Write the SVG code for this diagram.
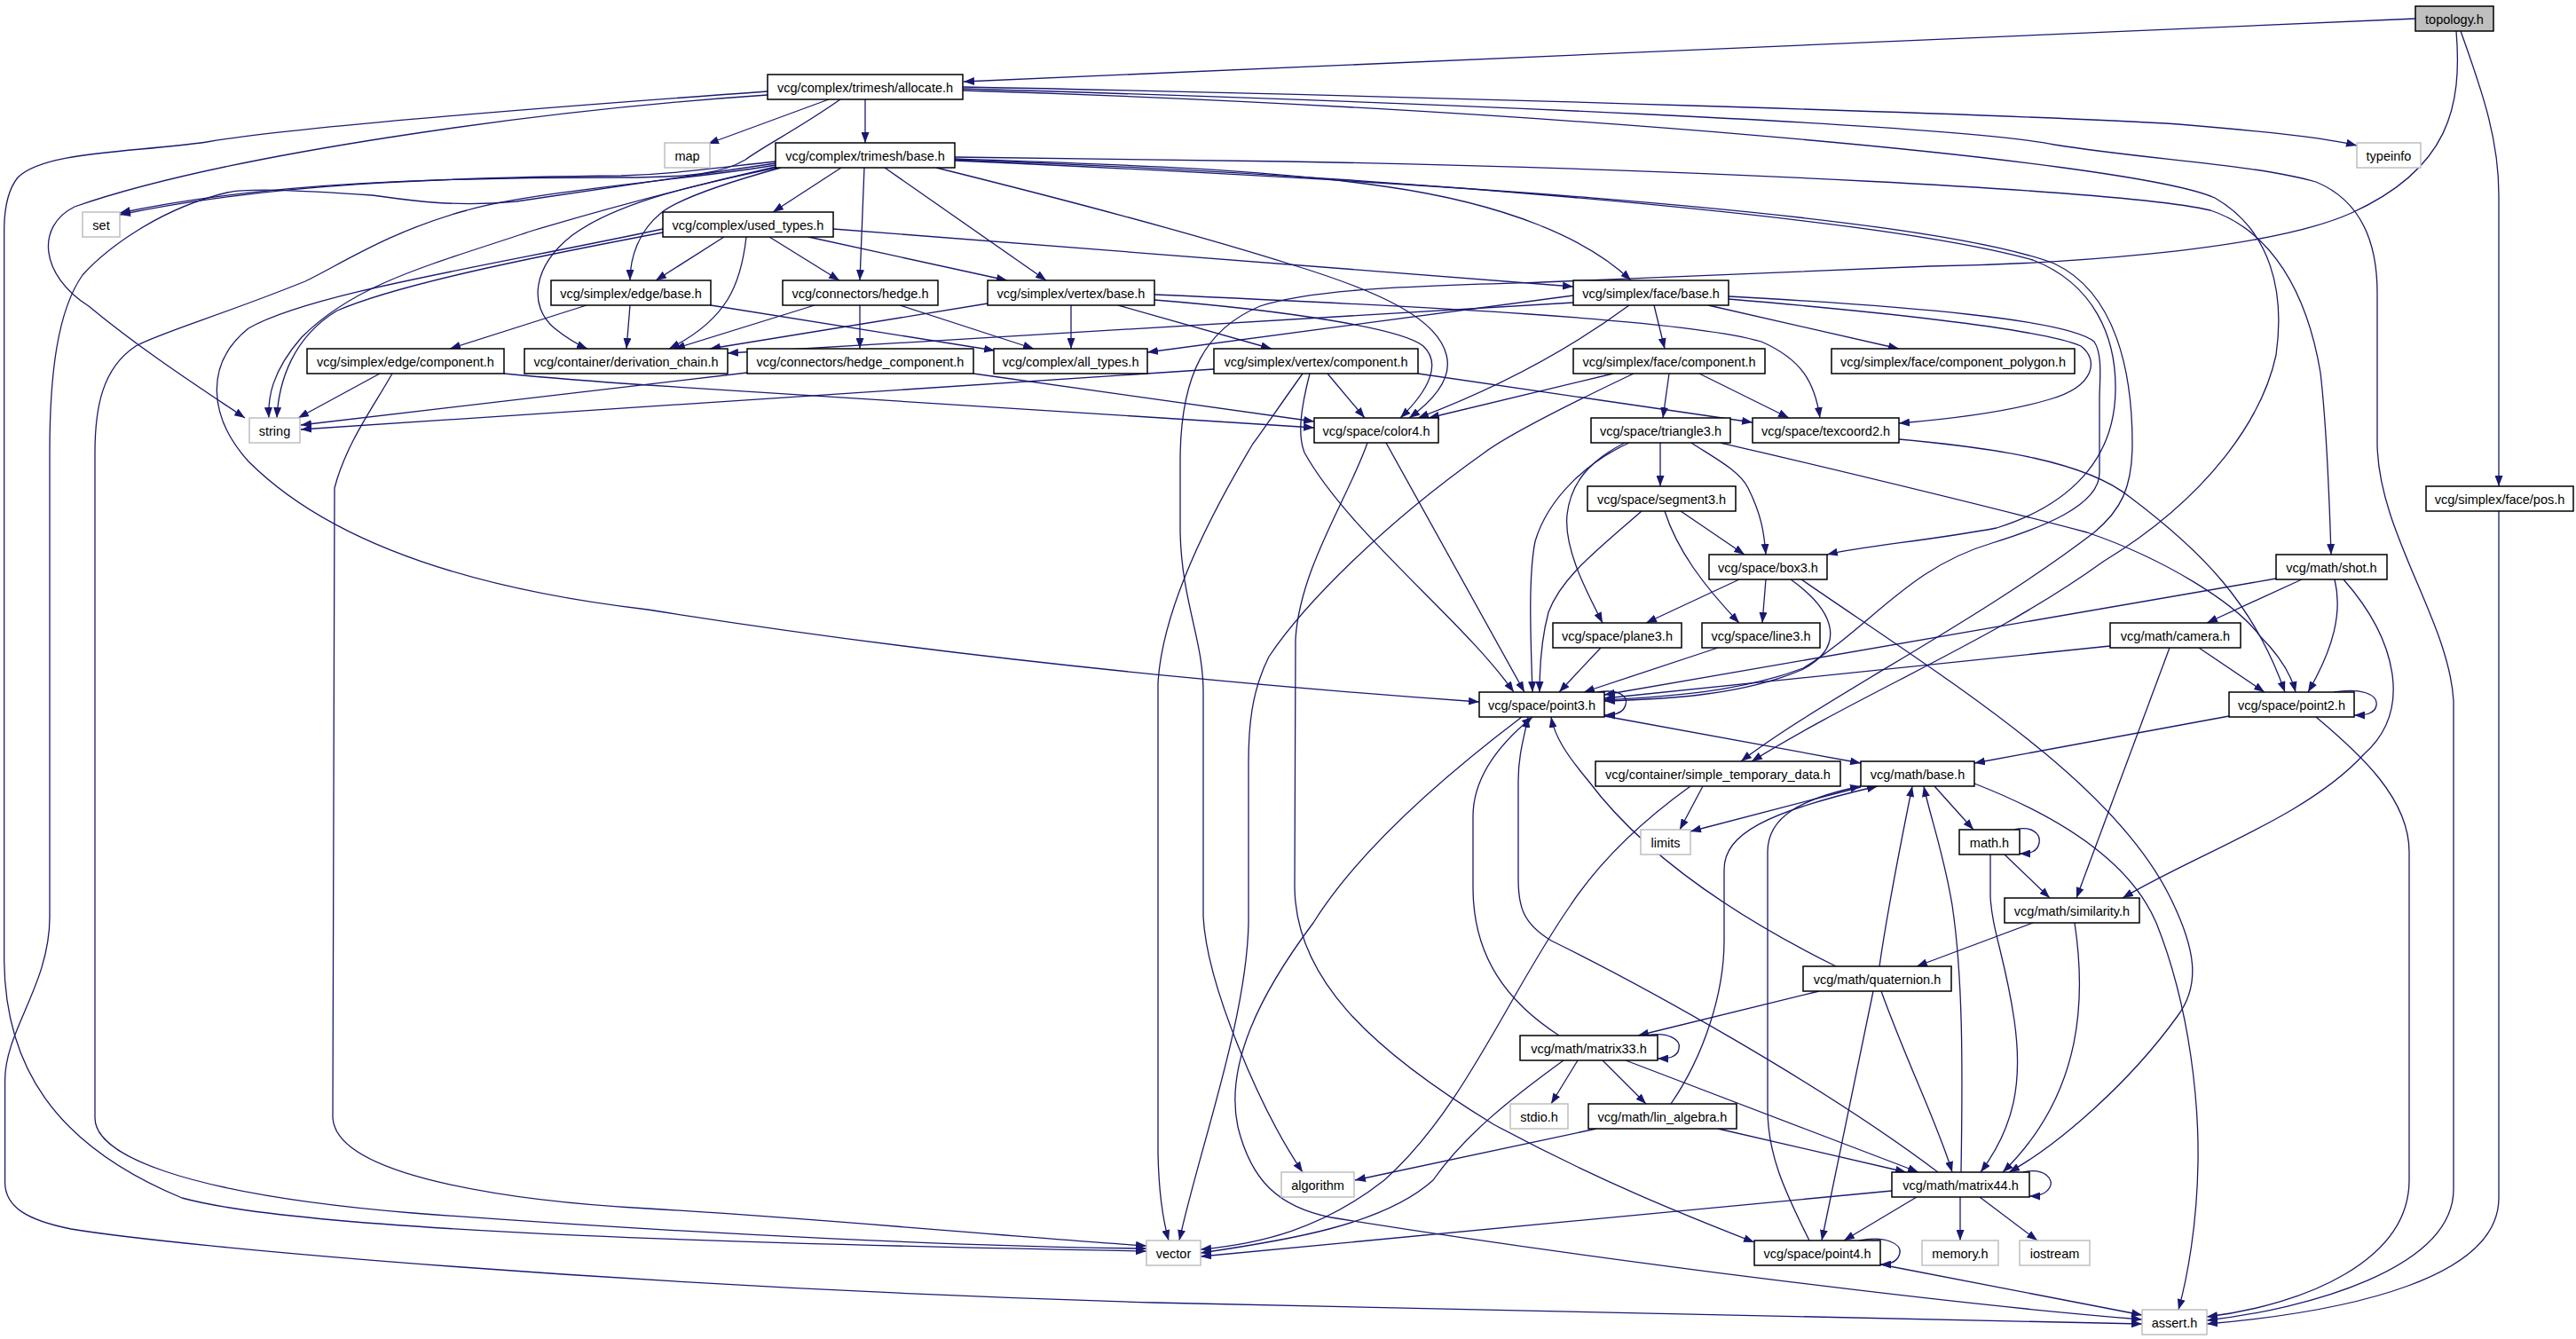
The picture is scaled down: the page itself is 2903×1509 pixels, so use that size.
<svg xmlns="http://www.w3.org/2000/svg" width="2903" height="1509" viewBox="0 0 2903 1509">
<defs>
<marker id="a" viewBox="0 0 12 9" refX="12" refY="4.5" markerWidth="12" markerHeight="9" markerUnits="userSpaceOnUse" orient="auto"><path d="M0,0 L12,4.5 L0,9 z" fill="#191970"/></marker>
</defs>
<style>
.n rect{fill:#fff;stroke:#000;stroke-width:1.5}
.s rect{fill:#fff;stroke:#bfbfbf;stroke-width:1.5}
.r rect{fill:#bfbfbf;stroke:#000;stroke-width:1.5}
text{font-family:"Liberation Sans",Arial,sans-serif;font-size:14.5px;text-anchor:middle;fill:#000}
.e path{fill:none;stroke:#191970;stroke-width:1.3;marker-end:url(#a)}
</style>
<rect width="2903" height="1509" fill="#fff"/>
<g class="e" id="edges">
<path d="M2722,21 L1086,92"/>
<path d="M2773,35 C2800,110 2816,160 2816,220 L2816,548"/>
<path d="M2768,35 C2775,120 2760,190 2650,240 C2550,285 2300,298 2175,300 L1738,318 C1600,322 1480,325 1420,345 C1360,370 1330,420 1330,520 L1330,600 C1332,680 1356,720 1356,780 L1356,1033 C1360,1110 1420,1250 1468,1321"/>
<path d="M865,103 C600,122 320,145 233,160 C150,172 50,170 20,200 C8,215 4.7,240 4.7,260 L4.7,1083 C6,1200 60,1290 205,1350 C350,1390 900,1403 1292,1410"/>
<path d="M865,107 C600,125 250,175 84,233 C40,255 45,310 100,345 C160,395 230,440 276,471"/>
<path d="M934,112 L798,162"/>
<path d="M947,112 C900,145 860,165 840,180 C815,195 780,200 700,200 C500,200 300,205 135,240"/>
<path d="M975,112 L975,161"/>
<path d="M1085,98 C1600,108 2300,130 2455,140 C2550,148 2620,155 2656,164"/>
<path d="M1085,100 C1600,115 2200,140 2315,163 C2420,180 2540,185 2610,205 C2670,230 2679,290 2679,330 L2679,500 C2680,600 2760,700 2765,790 L2765,1340 C2765,1430 2600,1475 2487,1488"/>
<path d="M1085,102 C1700,120 2400,180 2496,223 C2560,260 2575,330 2565,400 C2550,470 2490,560 2370,633 C2250,720 2100,780 1974,858"/>
<path d="M948,189 L871,239"/>
<path d="M974,189 L969,316"/>
<path d="M997,189 L1179,316"/>
<path d="M1055,189 C1200,225 1350,265 1455,298 C1560,330 1620,360 1630,400 C1638,430 1610,455 1588,471"/>
<path d="M1076,177 L1450,182 C1900,190 2400,215 2491,237 C2560,260 2600,330 2615,420 C2622,480 2625,560 2627,625"/>
<path d="M1076,179 C1250,185 1420,190 1560,210 C1700,230 1790,270 1838,316"/>
<path d="M1076,180 C1500,195 2100,240 2291,293 C2360,320 2385,380 2384,440 C2383,520 2330,570 2250,595 C2170,610 2100,615 2059,625"/>
<path d="M1076,181 C1500,200 2150,235 2315,297 C2385,330 2403,420 2403,500 C2403,550 2390,575 2360,600 C2230,700 2050,790 1962,858"/>
<path d="M880,189 C840,200 770,220 745,240 C720,260 710,290 710,316"/>
<path d="M876,189 C800,205 700,225 645,265 C600,300 595,345 625,370 C640,382 655,390 662,393"/>
<path d="M874,182 C800,190 760,196 700,198 C500,200 300,207 135,242"/>
<path d="M874,184 C800,195 700,210 582,227 C500,235 440,222 419,220 C330,214 280,212 256,217 C180,235 120,280 93,310 C65,350 56,420 56,510 L56,1033 C56,1110 6,1160 5.6,1217 L5.6,1333 C6,1360 30,1375 80,1385 C200,1405 700,1450 1300,1468 C1800,1480 2200,1488 2414,1492"/>
<path d="M874,186 C800,200 600,215 526,237 C440,260 380,300 344,317 C250,355 180,375 153,390 C115,415 107,460 107,510 L107,1260 C107,1300 200,1345 465,1367 C800,1392 1100,1405 1292,1407"/>
<path d="M874,188 C800,205 700,230 600,260 C480,300 400,320 340,380 C305,420 302,450 303,471"/>
<path d="M816,267 L739,316"/>
<path d="M841,267 C835,320 820,360 754,393"/>
<path d="M867,267 L946,316"/>
<path d="M911,267 L1135,316"/>
<path d="M939,258 L1773,323"/>
<path d="M747,258 C550,300 350,330 280,370 C230,410 235,470 280,520 C360,600 500,660 730,687 C1000,730 1300,765 1667,791"/>
<path d="M747,262 C600,290 450,320 380,350 C330,380 314,430 312,471"/>
<path d="M661,344 L507,393"/>
<path d="M710,344 L706,393"/>
<path d="M801,344 L1121,395"/>
<path d="M918,344 L760,393"/>
<path d="M969,344 L969,393"/>
<path d="M1014,344 L1165,393"/>
<path d="M1113,342 L800,393"/>
<path d="M1207,344 L1207,393"/>
<path d="M1260,344 L1433,393"/>
<path d="M1301,332 C1600,345 1900,360 1985,385 C2030,405 2045,430 2051,471"/>
<path d="M1301,338 C1450,350 1580,370 1604,390 C1625,410 1610,440 1578,471"/>
<path d="M1773,341 L820,398"/>
<path d="M1773,333 L1293,397"/>
<path d="M1836,344 C1760,400 1680,440 1598,471"/>
<path d="M1864,344 L1876,393"/>
<path d="M1925,344 L2140,393"/>
<path d="M1948,337 C2100,350 2300,370 2345,390 C2365,405 2362,435 2310,450 C2260,465 2200,472 2140,477"/>
<path d="M1948,334 C2150,345 2330,360 2360,385 C2370,400 2366,430 2366,450 L2366,533 C2366,570 2300,595 2245,612 C2150,640 2110,705 2032,753 C1960,780 1880,785 1808,789"/>
<path d="M1368,416 L339,484"/>
<path d="M1468,421 C1440,460 1420,490 1412,500 C1370,570 1310,680 1305,770 L1305,1300 C1306,1350 1312,1380 1317,1398"/>
<path d="M1496,421 L1538,471"/>
<path d="M1476,421 C1466,460 1462,490 1470,510 C1520,600 1650,700 1706,780"/>
<path d="M1598,421 L1975,476"/>
<path d="M1562,499 L1718,780"/>
<path d="M1541,499 C1520,560 1465,640 1460,720 L1459,1000 C1460,1100 1540,1180 1683,1267 C1800,1330 1900,1370 1977,1400"/>
<path d="M1818,421 L1610,471"/>
<path d="M1841,421 C1780,450 1700,490 1673,510 C1560,590 1470,680 1430,740 C1410,780 1407,820 1407,860 L1407,1040 C1405,1150 1350,1300 1329,1398"/>
<path d="M1881,421 L1874,471"/>
<path d="M1915,421 L2016,471"/>
<path d="M1871,499 L1871,548"/>
<path d="M1906,499 C1930,515 1960,530 1970,550 C1985,580 1988,600 1990,625"/>
<path d="M1831,499 C1790,520 1770,545 1766,580 C1762,620 1790,670 1806,702"/>
<path d="M1836,499 C1790,520 1745,560 1730,610 C1722,650 1725,720 1727,780"/>
<path d="M1939,499 C2050,525 2200,560 2352,600 C2440,630 2520,680 2547,717 C2570,740 2582,760 2587,780"/>
<path d="M2140,495 C2250,505 2350,520 2400,560 C2480,620 2540,680 2575,780"/>
<path d="M1894,576 L1966,625"/>
<path d="M1876,576 C1890,620 1920,660 1960,702"/>
<path d="M1850,576 C1800,620 1760,650 1745,690 C1737,720 1735,750 1735,780"/>
<path d="M1960,653 L1855,702"/>
<path d="M1990,653 L1986,702"/>
<path d="M2018,653 C2070,690 2080,730 2030,755 C1960,785 1870,788 1808,790"/>
<path d="M2030,653 C2200,770 2380,880 2445,1010 C2475,1070 2480,1110 2454,1145 C2400,1220 2320,1290 2264,1321"/>
<path d="M1804,730 L1757,780"/>
<path d="M1936,730 L1785,780"/>
<path d="M2594,653 L2487,702"/>
<path d="M2631,653 C2640,690 2630,730 2601,780"/>
<path d="M2641,653 C2700,720 2720,800 2664,850 C2600,920 2480,960 2392,1012"/>
<path d="M2565,652 L1808,783"/>
<path d="M2478,730 L2552,780"/>
<path d="M2378,728 L1808,787"/>
<path d="M2445,730 L2340,1012"/>
<path d="M2630,780 C2660,775 2680,782 2678,795 C2676,805 2665,806 2653,806"/>
<path d="M2512,807 L2225,860"/>
<path d="M2610,808 C2660,850 2715,900 2715,960 L2715,1330 C2715,1420 2600,1470 2487,1484"/>
<path d="M2816,576 L2816,1350 C2816,1440 2650,1478 2487,1492"/>
<path d="M1919,886 L1893,935"/>
<path d="M1905,886 C1830,940 1790,990 1770,1020 C1700,1120 1650,1250 1560,1330 C1490,1385 1420,1402 1353,1408"/>
<path d="M2097,887 L1905,937"/>
<path d="M2180,886 L2224,935"/>
<path d="M2225,883 C2320,920 2400,970 2430,1040 C2470,1140 2478,1250 2477,1310 C2476,1380 2465,1440 2455,1476"/>
<path d="M2270,935 C2290,930 2300,940 2298,950 C2296,960 2288,962 2276,962"/>
<path d="M2259,963 L2310,1012"/>
<path d="M2243,963 L2243,1010 C2245,1050 2260,1080 2270,1150 C2280,1220 2270,1270 2232,1321"/>
<path d="M2291,1040 L2160,1089"/>
<path d="M2338,1040 C2350,1120 2350,1230 2257,1321"/>
<path d="M2050,1117 L1846,1167"/>
<path d="M2111,1117 L2053,1398"/>
<path d="M2120,1117 C2150,1200 2185,1270 2200,1321"/>
<path d="M2069,1089 C1950,1030 1850,960 1790,880 C1765,850 1752,830 1748,808"/>
<path d="M2118,1089 C2125,1040 2140,960 2155,886"/>
<path d="M1855,1167 C1880,1162 1895,1172 1892,1182 C1890,1192 1880,1193 1868,1193"/>
<path d="M1778,1195 L1748,1244"/>
<path d="M1806,1195 L1855,1244"/>
<path d="M1832,1195 L2162,1321"/>
<path d="M1762,1195 C1700,1240 1650,1280 1615,1330 C1560,1380 1450,1398 1353,1412"/>
<path d="M1757,1167 C1700,1130 1660,1080 1660,1000 L1660,920 C1660,870 1700,830 1727,808"/>
<path d="M2280,1321 C2305,1315 2315,1330 2310,1338 C2305,1347 2295,1348 2287,1348"/>
<path d="M2209,1349 L2209,1398"/>
<path d="M2231,1349 L2296,1398"/>
<path d="M2132,1342 L1353,1416"/>
<path d="M2160,1349 L2078,1398"/>
<path d="M2184,1321 C2050,1220 1850,1110 1748,1060 C1715,1040 1711,1020 1711,990 L1711,880 C1711,850 1718,830 1722,808"/>
<path d="M2210,1321 C2212,1200 2212,1100 2200,1020 C2190,960 2175,920 2168,886"/>
<path d="M2095,1398 C2125,1392 2143,1402 2141,1412 C2139,1422 2130,1425 2119,1425"/>
<path d="M2039,1398 C2010,1340 1992,1300 1992,1250 L1992,960 C1992,920 2030,900 2097,886"/>
<path d="M2119,1425 L2414,1482"/>
<path d="M1800,780 C1825,776 1835,785 1832,794 C1830,803 1820,806 1808,806"/>
<path d="M1808,807 L2097,860"/>
<path d="M1715,808 C1620,880 1530,960 1480,1040 C1420,1120 1380,1200 1395,1270 C1410,1330 1440,1360 1500,1372 C1800,1420 2200,1470 2414,1487"/>
<path d="M1799,1272 L1527,1330"/>
<path d="M1936,1272 L2148,1321"/>
<path d="M1883,1244 C1920,1190 1943,1120 1943,1060 L1943,980 C1943,940 1990,915 2116,886"/>
<path d="M428,421 L336,471"/>
<path d="M442,421 C420,460 390,500 377,550 L375,1260 C380,1330 600,1355 730,1362 C950,1375 1150,1395 1292,1404"/>
<path d="M568,421 C640,428 700,432 730,434 L1481,482"/>
<path d="M842,420 L339,479"/>
<path d="M1097,421 L1481,475"/>
</g>
<g id="n_topology" class="r"><rect x="2722" y="7" width="88" height="28"/><text x="2766" y="26.5">topology.h</text></g>
<g id="n_allocate" class="n"><rect x="865" y="84" width="220" height="28"/><text x="975" y="103.5">vcg/complex/trimesh/allocate.h</text></g>
<g id="n_map" class="s"><rect x="749" y="161" width="51" height="28"/><text x="774.5" y="180.5">map</text></g>
<g id="n_tribase" class="n"><rect x="874" y="161" width="202" height="28"/><text x="975" y="180.5">vcg/complex/trimesh/base.h</text></g>
<g id="n_typeinfo" class="s"><rect x="2656" y="161" width="72" height="28"/><text x="2692" y="180.5">typeinfo</text></g>
<g id="n_set" class="s"><rect x="93" y="239" width="42" height="28"/><text x="114" y="258.5">set</text></g>
<g id="n_used_types" class="n"><rect x="747" y="239" width="192" height="28"/><text x="843" y="258.5">vcg/complex/used_types.h</text></g>
<g id="n_edge_base" class="n"><rect x="621" y="316" width="180" height="28"/><text x="711" y="335.5">vcg/simplex/edge/base.h</text></g>
<g id="n_hedge" class="n"><rect x="882" y="316" width="175" height="28"/><text x="969.5" y="335.5">vcg/connectors/hedge.h</text></g>
<g id="n_vertex_base" class="n"><rect x="1113" y="316" width="188" height="28"/><text x="1207" y="335.5">vcg/simplex/vertex/base.h</text></g>
<g id="n_face_base" class="n"><rect x="1773" y="316" width="175" height="28"/><text x="1860.5" y="335.5">vcg/simplex/face/base.h</text></g>
<g id="n_edge_component" class="n"><rect x="346" y="393" width="222" height="28"/><text x="457" y="412.5">vcg/simplex/edge/component.h</text></g>
<g id="n_derivation_chain" class="n"><rect x="591" y="393" width="229" height="28"/><text x="705.5" y="412.5">vcg/container/derivation_chain.h</text></g>
<g id="n_hedge_component" class="n"><rect x="842" y="393" width="255" height="28"/><text x="969.5" y="412.5">vcg/connectors/hedge_component.h</text></g>
<g id="n_all_types" class="n"><rect x="1120" y="393" width="173" height="28"/><text x="1206.5" y="412.5">vcg/complex/all_types.h</text></g>
<g id="n_vertex_component" class="n"><rect x="1368" y="393" width="230" height="28"/><text x="1483" y="412.5">vcg/simplex/vertex/component.h</text></g>
<g id="n_face_component" class="n"><rect x="1773" y="393" width="216" height="28"/><text x="1881" y="412.5">vcg/simplex/face/component.h</text></g>
<g id="n_face_component_polygon" class="n"><rect x="2064" y="393" width="274" height="28"/><text x="2201" y="412.5">vcg/simplex/face/component_polygon.h</text></g>
<g id="n_string" class="s"><rect x="281" y="471" width="57" height="28"/><text x="309.5" y="490.5">string</text></g>
<g id="n_color4" class="n"><rect x="1481" y="471" width="140" height="28"/><text x="1551" y="490.5">vcg/space/color4.h</text></g>
<g id="n_triangle3" class="n"><rect x="1793" y="471" width="157" height="28"/><text x="1871.5" y="490.5">vcg/space/triangle3.h</text></g>
<g id="n_texcoord2" class="n"><rect x="1975" y="471" width="165" height="28"/><text x="2057.5" y="490.5">vcg/space/texcoord2.h</text></g>
<g id="n_segment3" class="n"><rect x="1789" y="548" width="167" height="28"/><text x="1872.5" y="567.5">vcg/space/segment3.h</text></g>
<g id="n_face_pos" class="n"><rect x="2734" y="548" width="166" height="28"/><text x="2817" y="567.5">vcg/simplex/face/pos.h</text></g>
<g id="n_box3" class="n"><rect x="1926" y="625" width="133" height="28"/><text x="1992.5" y="644.5">vcg/space/box3.h</text></g>
<g id="n_shot" class="n"><rect x="2565" y="625" width="125" height="28"/><text x="2627.5" y="644.5">vcg/math/shot.h</text></g>
<g id="n_plane3" class="n"><rect x="1750" y="702" width="145" height="28"/><text x="1822.5" y="721.5">vcg/space/plane3.h</text></g>
<g id="n_line3" class="n"><rect x="1918" y="702" width="133" height="28"/><text x="1984.5" y="721.5">vcg/space/line3.h</text></g>
<g id="n_camera" class="n"><rect x="2378" y="702" width="147" height="28"/><text x="2451.5" y="721.5">vcg/math/camera.h</text></g>
<g id="n_point3" class="n"><rect x="1667" y="780" width="141" height="28"/><text x="1737.5" y="799.5">vcg/space/point3.h</text></g>
<g id="n_point2" class="n"><rect x="2512" y="780" width="141" height="28"/><text x="2582.5" y="799.5">vcg/space/point2.h</text></g>
<g id="n_simple_temporary_data" class="n"><rect x="1798" y="858" width="276" height="28"/><text x="1936" y="877.5">vcg/container/simple_temporary_data.h</text></g>
<g id="n_math_base" class="n"><rect x="2097" y="858" width="128" height="28"/><text x="2161" y="877.5">vcg/math/base.h</text></g>
<g id="n_limits" class="s"><rect x="1849" y="935" width="56" height="28"/><text x="1877" y="954.5">limits</text></g>
<g id="n_math_h" class="n"><rect x="2208" y="935" width="68" height="28"/><text x="2242" y="954.5">math.h</text></g>
<g id="n_similarity" class="n"><rect x="2259" y="1012" width="152" height="28"/><text x="2335" y="1031.5">vcg/math/similarity.h</text></g>
<g id="n_quaternion" class="n"><rect x="2032" y="1089" width="167" height="28"/><text x="2115.5" y="1108.5">vcg/math/quaternion.h</text></g>
<g id="n_matrix33" class="n"><rect x="1713" y="1167" width="155" height="28"/><text x="1790.5" y="1186.5">vcg/math/matrix33.h</text></g>
<g id="n_stdio" class="s"><rect x="1702" y="1244" width="65" height="28"/><text x="1734.5" y="1263.5">stdio.h</text></g>
<g id="n_lin_algebra" class="n"><rect x="1790" y="1244" width="167" height="28"/><text x="1873.5" y="1263.5">vcg/math/lin_algebra.h</text></g>
<g id="n_algorithm" class="s"><rect x="1444" y="1321" width="82" height="28"/><text x="1485" y="1340.5">algorithm</text></g>
<g id="n_matrix44" class="n"><rect x="2132" y="1321" width="155" height="28"/><text x="2209.5" y="1340.5">vcg/math/matrix44.h</text></g>
<g id="n_vector" class="s"><rect x="1292" y="1398" width="61" height="28"/><text x="1322.5" y="1417.5">vector</text></g>
<g id="n_point4" class="n"><rect x="1977" y="1398" width="142" height="28"/><text x="2048" y="1417.5">vcg/space/point4.h</text></g>
<g id="n_memory" class="s"><rect x="2166" y="1398" width="86" height="28"/><text x="2209" y="1417.5">memory.h</text></g>
<g id="n_iostream" class="s"><rect x="2276" y="1398" width="79" height="28"/><text x="2315.5" y="1417.5">iostream</text></g>
<g id="n_assert" class="s"><rect x="2414" y="1476" width="73" height="28"/><text x="2450.5" y="1495.5">assert.h</text></g>
</svg>
